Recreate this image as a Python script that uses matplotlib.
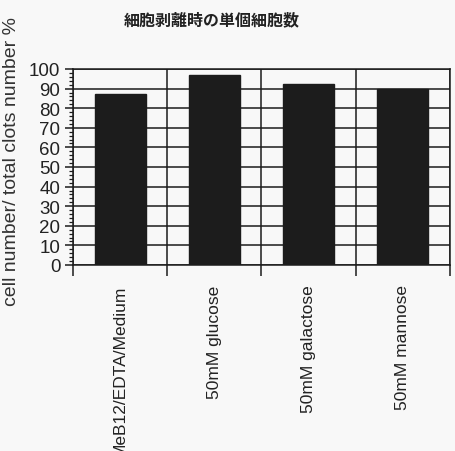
import numpy as np
import matplotlib.pyplot as plt
from matplotlib.ticker import MultipleLocator, FixedLocator

# 条件ごとの単個細胞の割合 (%)
conditions = ["MeB12/EDTA/Medium", "50mM glucose", "50mM galactose", "50mM mannose"]
single_cell_pct = [87, 97, 92.5, 90]

title = "細胞剥離時の単個細胞数"
ylabel = "cell number/ total clots number %"

plt.rcParams["font.family"] = ["Liberation Sans", "DejaVu Sans"]
bg = "#f8f8f8"
ink = "#1c1c1c"

fig = plt.figure(figsize=(4.56, 4.52), dpi=100, facecolor=bg)
ax = fig.add_axes([73 / 456, 1 - 266 / 452, 377 / 456, 196 / 452], facecolor=bg)

x = np.arange(len(conditions))
ax.bar(x, single_cell_pct, width=0.54, color=ink, edgecolor=ink, zorder=3)

ax.set_xlim(-0.5, len(conditions) - 0.5)
ax.set_ylim(0, 100)

# y: 目盛り 10 ごと、補助目盛り 2 ごと
ax.yaxis.set_major_locator(MultipleLocator(10))
ax.yaxis.set_minor_locator(MultipleLocator(2))
ax.tick_params(axis="y", which="major", direction="out", length=6, width=1.1,
               color=ink, labelsize=13.5, pad=3, labelcolor="#222222")
ax.tick_params(axis="y", which="minor", direction="out", length=3, width=0.9, color=ink)

# x: 区切り線を補助目盛りとして描く
ax.set_xticks(x)
ax.set_xticklabels(conditions, rotation=90, va="top", ha="center",
                   fontsize=12.5, color="#222222")
ax.xaxis.set_minor_locator(FixedLocator(np.arange(-0.5, len(conditions), 1.0)))
ax.tick_params(axis="x", which="major", length=0, pad=14)
ax.tick_params(axis="x", which="minor", direction="out", length=8, width=1.1, color=ink)

ax.grid(axis="y", which="major", color=ink, linewidth=1.1, zorder=1)
ax.grid(axis="x", which="minor", color=ink, linewidth=1.1, zorder=1)
ax.set_axisbelow(True)
for s in ax.spines.values():
    s.set_color(ink)
    s.set_linewidth(1.1)

fig.text(12 / 456, 1 - 162 / 452, ylabel, rotation=90, ha="center", va="center",
         fontsize=14, color="#333333")

fig.text(212 / 456, 1 - 20 / 452, title, ha="center", va="center",
         fontsize=11.5, fontweight="bold", color="#222222",
         family=["Noto Sans CJK JP", "DejaVu Sans"])

fig.savefig("out.png", dpi=100, facecolor=bg)
